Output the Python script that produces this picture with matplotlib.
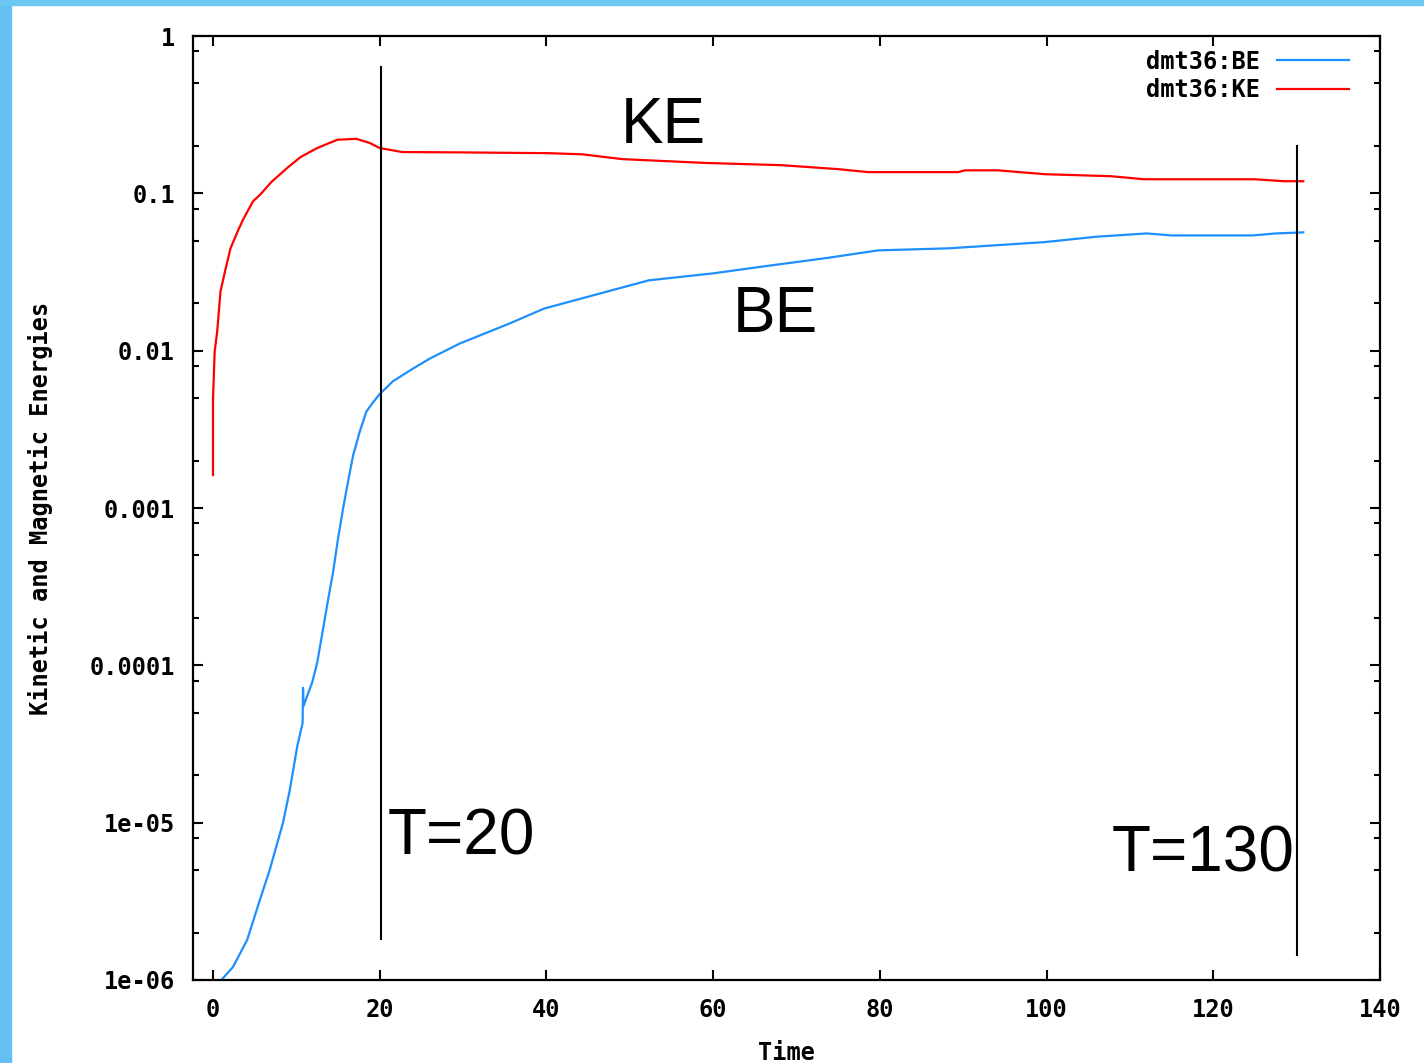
import numpy as np
import matplotlib.pyplot as plt
from matplotlib.patches import Rectangle
from matplotlib.ticker import FixedLocator, LogLocator, NullFormatter

# magnetic energy (BE)
be_time = [1.0, 2.4, 4.1, 5.6, 6.8, 8.4, 9.2, 10.1, 10.75, 10.8, 10.85, 11.9,
           12.5, 13.2, 13.8, 14.4, 15.0, 15.6, 16.2, 16.8, 17.6, 18.4, 19.2,
           20.0, 21.6, 24.0, 26.0, 29.6, 35.6, 39.7, 46.3, 52.3, 60.0, 65.5,
           73.9, 79.8, 88.2, 99.8, 106.0, 112.0, 115.0, 124.7, 127.5, 130.8]
be_vals = [1e-6, 1.21e-6, 1.8e-6, 3.2e-6, 5e-6, 1e-5, 1.6e-5, 3.05e-5, 4.3e-5,
           7.2e-5, 5.5e-5, 7.8e-5, 1.04e-4, 1.7e-4, 2.6e-4, 3.9e-4, 6.4e-4,
           9.9e-4, 1.47e-3, 2.15e-3, 3.05e-3, 4.1e-3, 4.7e-3, 5.3e-3, 6.4e-3,
           7.7e-3, 8.9e-3, 0.0111, 0.0149, 0.0185, 0.023, 0.028, 0.031, 0.034,
           0.039, 0.0434, 0.0447, 0.049, 0.053, 0.0556, 0.054, 0.054, 0.0556, 0.0565]

# kinetic energy (KE)
ke_time = [0.0, 0.0, 0.2, 0.5, 0.9, 1.5, 2.1, 3.0, 3.6, 4.8, 5.7, 7.0, 8.9,
           10.5, 12.5, 14.9, 17.2, 18.8, 20.0, 22.7, 30.0, 40.3, 44.3, 49.1,
           59.1, 68.2, 75.0, 78.6, 89.4, 90.2, 94.2, 99.8, 107.7, 111.7, 124.9,
           128.5, 130.8]
ke_vals = [1.62e-3, 4.9e-3, 9.9e-3, 0.0132, 0.0238, 0.033, 0.0447, 0.058,
           0.068, 0.089, 0.0986, 0.118, 0.145, 0.170, 0.194, 0.219, 0.222,
           0.209, 0.194, 0.183, 0.182, 0.180, 0.177, 0.165, 0.156, 0.151,
           0.1425, 0.1364, 0.1364, 0.140, 0.140, 0.1323, 0.1285, 0.1229,
           0.1229, 0.1194, 0.1194]

# marker lines and their labels
mark_times = [20.1, 130.0]
mark_lo = [1.82e-6, 1.44e-6]
mark_hi = [0.635, 0.199]
mark_text = ['T=20', 'T=130']
mark_text_pos = [(20.9, 6.25e-6), (107.8, 4.9e-6)]

curve_text = ['KE', 'BE']
curve_text_pos = [(48.9, 0.21), (62.4, 0.0132)]

yticks = [1e-6, 1e-5, 1e-4, 1e-3, 1e-2, 1e-1, 1]
ytick_labels = ['1e-06', '1e-05', '0.0001', '0.001', '0.01', '0.1', '1']
xticks = [0, 20, 40, 60, 80, 100, 120, 140]

mono = {'family': 'DejaVu Sans Mono', 'weight': 'bold', 'size': 17}

fig = plt.figure(figsize=(14.24, 10.63), dpi=100)
fig.patches.append(Rectangle((0, 0), 11 / 1424, 1, transform=fig.transFigure,
                             color='#64c0f2', zorder=0))
fig.patches.append(Rectangle((0, 1 - 5 / 1063), 1, 5 / 1063, transform=fig.transFigure,
                             color='#6ec8f5', zorder=0))

ax = fig.add_axes([193 / 1424, 1 - 980 / 1063, (1380 - 193) / 1424, (980 - 36) / 1063])
ax.plot(be_time, be_vals, color='#1e8fff', lw=1.6, label='dmt36:BE')
ax.plot(ke_time, ke_vals, color='#ff0000', lw=1.6, label='dmt36:KE')

for t, lo, hi in zip(mark_times, mark_lo, mark_hi):
    ax.plot([t, t], [lo, hi], color='black', lw=1.5)
for s, (x, y) in zip(mark_text + curve_text, mark_text_pos + curve_text_pos):
    ax.text(x, y, s, fontsize=46, family='Liberation Sans', va='baseline')

ax.set_yscale('log')
ax.set_xlim(-2.4, 140)
ax.set_ylim(1e-6, 1)
ax.xaxis.set_major_locator(FixedLocator(xticks))
ax.set_xticklabels([str(v) for v in xticks], fontdict=mono)
ax.yaxis.set_major_locator(FixedLocator(yticks))
ax.set_yticklabels(ytick_labels, fontdict=mono)
ax.yaxis.set_minor_locator(LogLocator(base=10, subs=[2, 5, 8]))
ax.yaxis.set_minor_formatter(NullFormatter())

ax.tick_params(which='both', direction='in', top=True, right=True, width=1.5)
ax.tick_params(which='major', length=7.5)
ax.tick_params(which='minor', length=4)
ax.tick_params(axis='y', which='major', pad=13)
ax.tick_params(axis='x', which='major', pad=13)
for sp in ax.spines.values():
    sp.set_linewidth(1.6)

ax.set_xlabel('Time', fontdict=mono, labelpad=14)
ax.set_ylabel('Kinetic and Magnetic Energies', fontdict=mono, labelpad=26)

ax.legend(loc='upper right', bbox_to_anchor=(0.992, 1.008), frameon=False,
          markerfirst=False, prop=mono, handlelength=3.05, labelspacing=0.2,
          handletextpad=0.75)

plt.savefig('out.png', dpi=100)
